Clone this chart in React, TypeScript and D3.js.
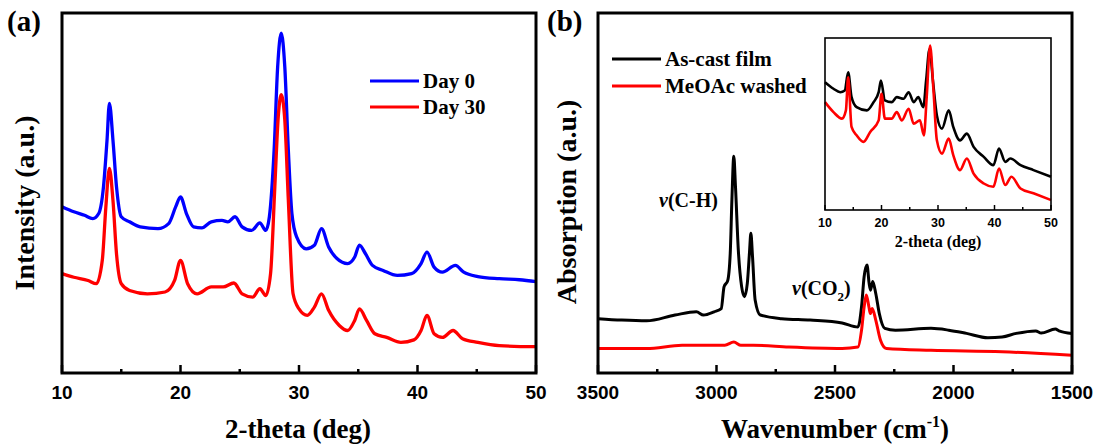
import React from 'react';
import * as d3 from 'd3';

// ---------- Panel (a): XRD, 2-theta (deg) vs intensity (a.u., 0-1000 frame units)
const xrdTicks = [10, 20, 30, 40, 50];
const xrdMinor = [15, 25, 35, 45];
const day0: [number, number][] = [
  [10.0, 462], [11.0, 448], [11.9, 438], [12.6, 429], [13.1, 443], [13.5, 517], [13.8, 647], [14.0, 749],
  [14.3, 647], [14.6, 517], [15.0, 434], [15.7, 420], [16.6, 406], [18.1, 401], [19.0, 415], [19.6, 462],
  [20.0, 489], [20.5, 443], [21.1, 406], [21.8, 403], [22.6, 420], [23.5, 424], [24.0, 420], [24.6, 434],
  [25.2, 406], [26.0, 396], [26.7, 417], [27.2, 396], [27.5, 434], [27.9, 619], [28.2, 851], [28.5, 944],
  [28.8, 851], [29.1, 619], [29.4, 443], [29.8, 378], [30.6, 345], [31.3, 355], [31.9, 401], [32.5, 350],
  [33.2, 318], [34.1, 304], [34.7, 322], [35.1, 355], [35.6, 332], [36.2, 299], [37.1, 285], [38.3, 271],
  [39.5, 276], [40.3, 304], [40.8, 336], [41.4, 294], [42.1, 280], [43.2, 299], [43.9, 280], [45.1, 268],
  [46.9, 262], [48.6, 259], [50.0, 254],
];
const day30: [number, number][] = [
  [10.0, 276], [11.0, 266], [12.2, 257], [12.9, 248], [13.4, 313], [13.7, 461], [14.0, 568], [14.3, 480],
  [14.6, 331], [15.0, 248], [15.7, 229], [17.2, 220], [18.7, 225], [19.5, 257], [20.0, 313], [20.6, 248],
  [21.4, 220], [22.6, 239], [23.6, 239], [24.5, 250], [25.2, 220], [26.1, 211], [26.7, 234], [27.2, 215],
  [27.6, 276], [27.96, 517], [28.25, 712], [28.5, 773], [28.8, 703], [29.1, 480], [29.5, 220], [30.0, 178],
  [30.7, 160], [31.3, 183], [31.9, 220], [32.5, 174], [33.4, 132], [34.1, 118], [34.7, 146], [35.1, 178],
  [35.7, 146], [36.4, 109], [37.4, 99], [38.6, 85], [39.7, 92], [40.3, 118], [40.8, 160], [41.4, 109],
  [42.1, 99], [43.0, 118], [43.8, 95], [45.1, 85], [46.9, 76], [50.0, 73],
];
const legendA = ['Day 0', 'Day 30'];

// ---------- Panel (b): FTIR, wavenumber (cm-1) vs absorption (a.u.)
const irTicks = [3500, 3000, 2500, 2000, 1500];
const irMinor = [3250, 2750, 2250, 1750];
const asCast: [number, number][] = [
  [3500, 151], [3400, 147], [3295, 145], [3175, 161], [3085, 170], [3055, 161], [3010, 170], [2980, 179],
  [2968, 240], [2953, 256], [2942, 333], [2935, 481], [2927, 602], [2920, 519], [2908, 342], [2894, 240],
  [2882, 212], [2870, 249], [2861, 333], [2855, 388], [2848, 323], [2837, 203], [2815, 161], [2725, 151],
  [2605, 147], [2470, 139], [2403, 128], [2388, 184], [2377, 268], [2365, 300], [2356, 249], [2350, 230],
  [2341, 254], [2328, 221], [2313, 165], [2290, 124], [2245, 119], [2095, 124], [2020, 119], [1945, 110],
  [1855, 98], [1795, 100], [1735, 110], [1653, 117], [1630, 111], [1570, 122], [1555, 117], [1500, 110],
];
const meoacWashed: [number, number][] = [
  [3500, 68], [3295, 68], [3145, 77], [2965, 77], [2927, 86], [2897, 77], [2845, 77], [2695, 72],
  [2470, 68], [2403, 72], [2388, 119], [2377, 184], [2368, 217], [2357, 184], [2351, 165], [2343, 179],
  [2328, 147], [2308, 91], [2283, 68], [2095, 63], [1795, 59], [1500, 49],
];
const legendB = ['As-cast film', 'MeOAc washed'];

// ---------- Inset: XRD of the films
const insetTicks = [10, 20, 30, 40, 50];
const insetMinor = [15, 25, 35, 45];
const insetAsCast: [number, number][] = [
  [10, 743], [11.5, 705], [12.7, 685], [13.5, 695], [14.1, 801], [14.7, 656], [15.6, 598], [17.4, 579],
  [18.6, 627], [19.5, 685], [19.9, 753], [20.6, 637], [21.8, 627], [22.7, 656], [23.9, 647], [24.8, 685],
  [25.7, 627], [26.5, 656], [27.4, 598], [27.9, 753], [28.5, 936], [29.1, 753], [29.8, 550], [30.7, 473],
  [31.9, 579], [32.7, 483], [33.9, 405], [35.1, 444], [36.3, 367], [38.1, 309], [39.8, 261], [40.8, 357],
  [41.9, 280], [42.8, 299], [44.6, 261], [46.9, 232], [50, 193],
];
const insetMeoac: [number, number][] = [
  [10, 627], [11.5, 569], [13.0, 531], [13.7, 579], [14.1, 772], [14.7, 483], [15.6, 434], [16.8, 396],
  [18.0, 454], [19.5, 521], [20.0, 676], [20.6, 531], [21.8, 531], [22.7, 569], [23.6, 521], [24.8, 589],
  [25.7, 502], [26.8, 521], [27.5, 434], [28.0, 656], [28.6, 956], [29.2, 695], [29.8, 405], [30.7, 328],
  [31.9, 415], [32.7, 319], [33.9, 232], [35.1, 299], [36.3, 212], [38.1, 154], [39.8, 135], [40.8, 241],
  [41.9, 145], [43.0, 193], [44.6, 125], [46.9, 97], [50, 58],
];

const SERIF = "'Liberation Serif', 'Times New Roman', serif";
const SANS = "'Liberation Sans', Arial, sans-serif";
const BLUE = '#0000ff';
const RED = '#ff0000';

function mkLine(x: d3.ScaleLinear<number, number>, y: d3.ScaleLinear<number, number>) {
  return d3
    .line<[number, number]>()
    .x((d) => x(d[0]))
    .y((d) => y(d[1]))
    .curve(d3.curveMonotoneX);
}

function Frame({ x, y, sw, majors, minors, majLen, minLen, labelSize, labelDy, tickSw }: any) {
  const [x0, x1] = x.range();
  const [y0, y1] = y.range(); // y0 bottom, y1 top
  return (
    <g>
      <rect x={x0} y={y1} width={x1 - x0} height={y0 - y1} fill="none" stroke="#000" strokeWidth={sw} />
      {majors.map((t: number) => (
        <line key={'M' + t} x1={x(t)} x2={x(t)} y1={y0} y2={y0 - majLen} stroke="#000" strokeWidth={tickSw} />
      ))}
      {minors.map((t: number) => (
        <line key={'m' + t} x1={x(t)} x2={x(t)} y1={y0} y2={y0 - minLen} stroke="#000" strokeWidth={tickSw} />
      ))}
      {majors.map((t: number) => (
        <text
          key={'L' + t}
          x={x(t)}
          y={y0 + labelDy}
          textAnchor="middle"
          fontFamily={SANS}
          fontWeight="bold"
          fontSize={labelSize}
          fill="#000"
        >
          {t}
        </text>
      ))}
    </g>
  );
}

export default function App() {
  const W = 1099;
  const H = 447;

  const xa = d3.scaleLinear().domain([10, 50]).range([62, 536]);
  const ya = d3.scaleLinear().domain([0, 1000]).range([373, 13]);
  const xb = d3.scaleLinear().domain([3500, 1500]).range([598, 1072]);
  const yb = d3.scaleLinear().domain([0, 1000]).range([373, 13]);
  const xi = d3.scaleLinear().domain([10, 50]).range([825, 1051]);
  const yi = d3.scaleLinear().domain([0, 1000]).range([210, 38]);

  const la = mkLine(xa, ya);
  const lb = mkLine(xb, yb);
  const li = mkLine(xi, yi);

  const colorsA = [BLUE, RED];
  const colorsB = ['#000', RED];

  return (
    <svg
      width={W}
      height={H}
      viewBox={`0 0 ${W} ${H}`}
      style={{ position: 'absolute', left: 0, top: 0, background: '#fff' }}
    >
      <rect x={0} y={0} width={W} height={H} fill="#fff" />

      {/* ---------------- Panel (a) ---------------- */}
      <text x={7} y={31} fontFamily={SERIF} fontWeight="bold" fontSize={29}>(a)</text>
      <path d={la(day0) || ''} fill="none" stroke={BLUE} strokeWidth={3.3} strokeLinejoin="round" />
      <path d={la(day30) || ''} fill="none" stroke={RED} strokeWidth={3.3} strokeLinejoin="round" />
      <Frame x={xa} y={ya} sw={3} majors={xrdTicks} minors={xrdMinor} majLen={8} minLen={4} labelSize={19} labelDy={26} tickSw={2.5} />
      {legendA.map((s, i) => (
        <g key={s}>
          <line x1={370} x2={419} y1={81 + i * 26} y2={81 + i * 26} stroke={colorsA[i]} strokeWidth={3} />
          <text x={423} y={88 + i * 26} fontFamily={SERIF} fontWeight="bold" fontSize={21}>{s}</text>
        </g>
      ))}
      <text x={298} y={438} textAnchor="middle" fontFamily={SERIF} fontWeight="bold" fontSize={27}>2-theta (deg)</text>
      <text transform="translate(34,203) rotate(-90)" textAnchor="middle" fontFamily={SERIF} fontWeight="bold" fontSize={28}>
        Intensity (a.u.)
      </text>

      {/* ---------------- Panel (b) ---------------- */}
      <text x={547} y={31} fontFamily={SERIF} fontWeight="bold" fontSize={29}>(b)</text>
      <path d={lb(asCast) || ''} fill="none" stroke="#000" strokeWidth={3} strokeLinejoin="round" />
      <path d={lb(meoacWashed) || ''} fill="none" stroke={RED} strokeWidth={3} strokeLinejoin="round" />
      <Frame x={xb} y={yb} sw={3} majors={irTicks} minors={irMinor} majLen={8} minLen={4} labelSize={19} labelDy={26} tickSw={2.5} />
      {legendB.map((s, i) => (
        <g key={s}>
          <line x1={612} x2={661} y1={59 + i * 27} y2={59 + i * 27} stroke={colorsB[i]} strokeWidth={3} />
          <text x={665} y={66 + i * 27} fontFamily={SERIF} fontWeight="bold" fontSize={21}>{s}</text>
        </g>
      ))}
      <text x={659} y={207} fontFamily={SERIF} fontWeight="bold" fontSize={20}>
        <tspan fontStyle="italic">ν</tspan>(C-H)
      </text>
      <text x={792} y={295} fontFamily={SERIF} fontWeight="bold" fontSize={20}>
        <tspan fontStyle="italic">ν</tspan>(CO<tspan dy={6} fontSize={13}>2</tspan><tspan dy={-6}>)</tspan>
      </text>
      <text x={835} y={438} textAnchor="middle" fontFamily={SERIF} fontWeight="bold" fontSize={27}>
        Wavenumber (cm<tspan dy={-11} fontSize={16}>-1</tspan><tspan dy={11}>)</tspan>
      </text>
      <text transform="translate(576,202) rotate(-90)" textAnchor="middle" fontFamily={SERIF} fontWeight="bold" fontSize={28}>
        Absorption (a.u.)
      </text>

      {/* ---------------- Inset ---------------- */}
      <rect x={825} y={38} width={226} height={172} fill="#fff" />
      <path d={li(insetAsCast) || ''} fill="none" stroke="#000" strokeWidth={2.6} strokeLinejoin="round" />
      <path d={li(insetMeoac) || ''} fill="none" stroke={RED} strokeWidth={2.6} strokeLinejoin="round" />
      <Frame x={xi} y={yi} sw={1.6} majors={insetTicks} minors={insetMinor} majLen={5} minLen={3} labelSize={12.5} labelDy={17} tickSw={1.5} />
      <text x={938} y={247} textAnchor="middle" fontFamily={SERIF} fontWeight="bold" fontSize={16}>2-theta (deg)</text>
    </svg>
  );
}
